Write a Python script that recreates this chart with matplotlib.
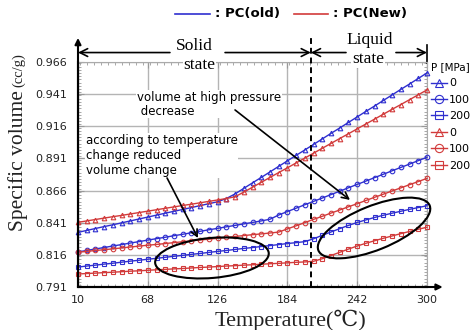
import numpy as np
import matplotlib
matplotlib.use("Agg")
from matplotlib import pyplot as plt
from matplotlib.patches import Ellipse
from matplotlib.lines import Line2D
from matplotlib.transforms import IdentityTransform, blended_transform_factory
from matplotlib.ticker import MultipleLocator

# temperature grid (deg C), one point every 7.25 degrees
temperature = np.arange(10, 300.1, 7.25)

# specific volume (cc/g), PC(old)
old_0 = [0.8335, 0.8350, 0.8365, 0.8380, 0.8394, 0.8409, 0.8424, 0.8439, 0.8454, 0.8469,
         0.8484, 0.8499, 0.8513, 0.8528, 0.8543, 0.8558, 0.8573, 0.8598, 0.8634, 0.8677,
         0.8720, 0.8762, 0.8805, 0.8848, 0.8891, 0.8934, 0.8976, 0.9019, 0.9062, 0.9105,
         0.9147, 0.9190, 0.9233, 0.9276, 0.9318, 0.9361, 0.9404, 0.9447, 0.9489, 0.9532, 0.9575]
old_100 = [0.8183, 0.8194, 0.8206, 0.8217, 0.8229, 0.8240, 0.8252, 0.8263, 0.8275, 0.8286,
           0.8297, 0.8309, 0.8320, 0.8332, 0.8343, 0.8355, 0.8366, 0.8378, 0.8389, 0.8401,
           0.8412, 0.8424, 0.8437, 0.8470, 0.8497, 0.8523, 0.8550, 0.8576, 0.8602, 0.8629,
           0.8655, 0.8682, 0.8708, 0.8734, 0.8761, 0.8787, 0.8814, 0.8840, 0.8866, 0.8893, 0.8919]
old_200 = [0.8065, 0.8073, 0.8080, 0.8088, 0.8095, 0.8103, 0.8111, 0.8118, 0.8126, 0.8133,
           0.8141, 0.8149, 0.8156, 0.8164, 0.8171, 0.8179, 0.8187, 0.8194, 0.8202, 0.8210,
           0.8217, 0.8225, 0.8232, 0.8240, 0.8248, 0.8255, 0.8263, 0.8285, 0.8312, 0.8338,
           0.8364, 0.8389, 0.8412, 0.8432, 0.8451, 0.8468, 0.8484, 0.8499, 0.8514, 0.8528, 0.8542]

# specific volume (cc/g), PC(New)
new_0 = [0.8413, 0.8424, 0.8435, 0.8446, 0.8457, 0.8467, 0.8478, 0.8489, 0.8500, 0.8511,
         0.8522, 0.8533, 0.8544, 0.8554, 0.8565, 0.8576, 0.8587, 0.8598, 0.8612, 0.8648,
         0.8686, 0.8724, 0.8762, 0.8800, 0.8837, 0.8875, 0.8913, 0.8951, 0.8989, 0.9027,
         0.9065, 0.9102, 0.9140, 0.9178, 0.9216, 0.9254, 0.9292, 0.9329, 0.9367, 0.9405, 0.9443]
new_100 = [0.8180, 0.8187, 0.8194, 0.8200, 0.8207, 0.8214, 0.8221, 0.8228, 0.8235, 0.8241,
           0.8248, 0.8255, 0.8262, 0.8269, 0.8276, 0.8282, 0.8289, 0.8296, 0.8303, 0.8310,
           0.8317, 0.8323, 0.8330, 0.8337, 0.8362, 0.8386, 0.8411, 0.8436, 0.8460, 0.8485,
           0.8509, 0.8534, 0.8558, 0.8583, 0.8608, 0.8632, 0.8657, 0.8681, 0.8706, 0.8730, 0.8755]
new_200 = [0.8011, 0.8015, 0.8018, 0.8022, 0.8025, 0.8029, 0.8033, 0.8036, 0.8040, 0.8044,
           0.8047, 0.8051, 0.8054, 0.8058, 0.8062, 0.8065, 0.8069, 0.8073, 0.8076, 0.8080,
           0.8083, 0.8087, 0.8091, 0.8094, 0.8098, 0.8102, 0.8105, 0.8110, 0.8130, 0.8155,
           0.8180, 0.8205, 0.8229, 0.8250, 0.8270, 0.8289, 0.8307, 0.8325, 0.8342, 0.8359, 0.8375]

pressures = ["0", "100", "200"]
markers = ["^", "o", "s"]
x_ticks = [10, 68, 126, 184, 242, 300]
y_ticks = [0.791, 0.816, 0.841, 0.866, 0.891, 0.916, 0.941, 0.966]
melt_T = 203.5

blue = "#2f2fcf"
red = "#d23b3b"
serif = ["Liberation Serif", "DejaVu Serif", "DejaVu Sans"]

fig = plt.figure(figsize=(4.76, 3.30), dpi=100)
ax = fig.add_axes([78 / 476, 1 - 287 / 330, 349 / 476, 225 / 330])

handles = []
for series, color in [((old_0, old_100, old_200), blue), ((new_0, new_100, new_200), red)]:
    for vals, m in zip(series, markers):
        ln, = ax.plot(temperature, vals, color=color, lw=1.0, marker=m, ms=3.3,
                      mfc="none", mew=0.8, clip_on=False, zorder=3)
        handles.append(ln)

ax.set_xlim(10, 300)
ax.set_ylim(0.791, 0.966)
ax.set_xticks(x_ticks)
ax.set_yticks(y_ticks)
ax.set_yticklabels(["%.3f" % v for v in y_ticks])
ax.xaxis.set_minor_locator(MultipleLocator(5.8))
ax.yaxis.set_minor_locator(MultipleLocator(0.0025))
ax.tick_params(which="both", direction="in", top=True, right=True, colors="#999999",
               labelcolor="#222222", labelsize=8)
ax.tick_params(which="major", length=4, width=0.8)
ax.tick_params(which="minor", length=2.5, width=0.6)
ax.tick_params(axis="y", pad=8)
ax.tick_params(axis="x", pad=6)
ax.grid(which="major", color="#b4b4b4", lw=1.0)
for s in ["left", "bottom"]:
    ax.spines[s].set_color("black")
    ax.spines[s].set_linewidth(1.5)
for s in ["top", "right"]:
    ax.spines[s].set_color("#aaaaaa")
    ax.spines[s].set_linewidth(0.8)

# axis arrows
arrow_kw = dict(arrowstyle="-|>", lw=1.5, color="black", mutation_scale=9, shrinkA=0, shrinkB=0)
ax.annotate("", xy=(0, 1.107), xytext=(0, 0), xycoords="axes fraction", arrowprops=arrow_kw)
ax.annotate("", xy=(1.045, 0), xytext=(0, 0), xycoords="axes fraction", arrowprops=arrow_kw)

# solid / liquid state markers
trans = blended_transform_factory(ax.transData, ax.transAxes)
ax.plot([melt_T, melt_T], [0, 1.12], transform=trans, color="black", lw=1.4,
        ls=(0, (3, 2)), clip_on=False, zorder=4)
state_kw = dict(arrowstyle="->", lw=1.2, color="black", mutation_scale=14, shrinkA=0, shrinkB=0)
ay = 1.042
ax.annotate("", xy=(10, ay), xytext=(86.4, ay), xycoords=trans, textcoords=trans, arrowprops=state_kw)
ax.annotate("", xy=(melt_T, ay), xytext=(132.2, ay), xycoords=trans, textcoords=trans, arrowprops=state_kw)
ax.annotate("", xy=(melt_T, ay), xytext=(232.7, ay), xycoords=trans, textcoords=trans, arrowprops=state_kw)
ax.annotate("", xy=(300, ay), xytext=(274.2, ay), xycoords=trans, textcoords=trans, arrowprops=state_kw)
ax.plot([300, 300], [0.996, 1.075], transform=trans, color="black", lw=1.2, clip_on=False)

box = dict(boxstyle="square,pad=0.05", fc="white", ec="none")
ax.text(107, 1.071, "Solid", transform=trans, ha="center", va="center", family=serif, fontsize=12.5)
ax.text(111, 0.985, "state", transform=trans, ha="center", va="center", family=serif,
        fontsize=12.5, bbox=box, zorder=5)
ax.text(252.6, 1.098, "Liquid", transform=trans, ha="center", va="center", family=serif, fontsize=12.5)
ax.text(251, 1.012, "state", transform=trans, ha="center", va="center", family=serif,
        fontsize=12.5, bbox=box, zorder=5)

# annotations
ax.text(59, 0.9436, "volume at high pressure\n decrease", ha="left", va="top", fontsize=8.5,
        linespacing=1.1, bbox=box, zorder=5)
ax.text(16.6, 0.910, "according to temperature\nchange reduced\nvolume change", ha="left",
        va="top", fontsize=8.5, linespacing=1.2, bbox=box, zorder=5)
note_kw = dict(arrowstyle="->", lw=1.2, color="black", mutation_scale=12, shrinkA=0, shrinkB=0)
ax.annotate("", xy=(236, 0.8587), xytext=(140.5, 0.9287), arrowprops=note_kw, zorder=6)
ax.annotate("", xy=(109.7, 0.8291), xytext=(84, 0.8758), arrowprops=note_kw, zorder=6)

for (tx, vy), w, h, ang in [((121.3, 0.8136), 114, 40, 5), ((256, 0.8369), 120, 44, 22)]:
    cx, cy = ax.transData.transform((tx, vy))
    fig.add_artist(Ellipse((cx, cy), w, h, angle=ang, fill=False, ec="black", lw=1.5,
                           transform=IdentityTransform(), zorder=6))

# legends
leg = ax.legend(handles=handles, labels=pressures * 2, title="P [MPa]", loc="upper left",
                bbox_to_anchor=(431 / 476, 1 - 62 / 330), bbox_transform=fig.transFigure,
                frameon=False, fontsize=8, title_fontsize=7.5, handlelength=1.4,
                handletextpad=0.2, labelspacing=0.58, borderpad=0, borderaxespad=0,
                markerscale=1.8, alignment="left")

fig.add_artist(Line2D([175 / 476, 210 / 476], [0.958, 0.958], color=blue, lw=1.2))
fig.text(215 / 476, 0.958, ": PC(old)", va="center", fontsize=9.5, fontweight="bold")
fig.add_artist(Line2D([294 / 476, 328 / 476], [0.958, 0.958], color=red, lw=1.2))
fig.text(333 / 476, 0.958, ": PC(New)", va="center", fontsize=9.5, fontweight="bold")

# axis titles
fig.text(18 / 476, 1 - 161 / 330, "Specific volume", rotation=90, ha="center", va="center",
         family=serif, fontsize=15.5, color="#222222")
fig.text(19 / 476, 1 - 70 / 330, "(cc/g)", rotation=90, ha="center", va="center",
         family=serif, fontsize=10.5, color="#222222")
fig.text(290 / 476, 1 - 320 / 330, "Temperature(℃)", ha="center", va="center",
         family=serif, fontsize=16, color="#222222")

fig.savefig("out.png", dpi=100)
